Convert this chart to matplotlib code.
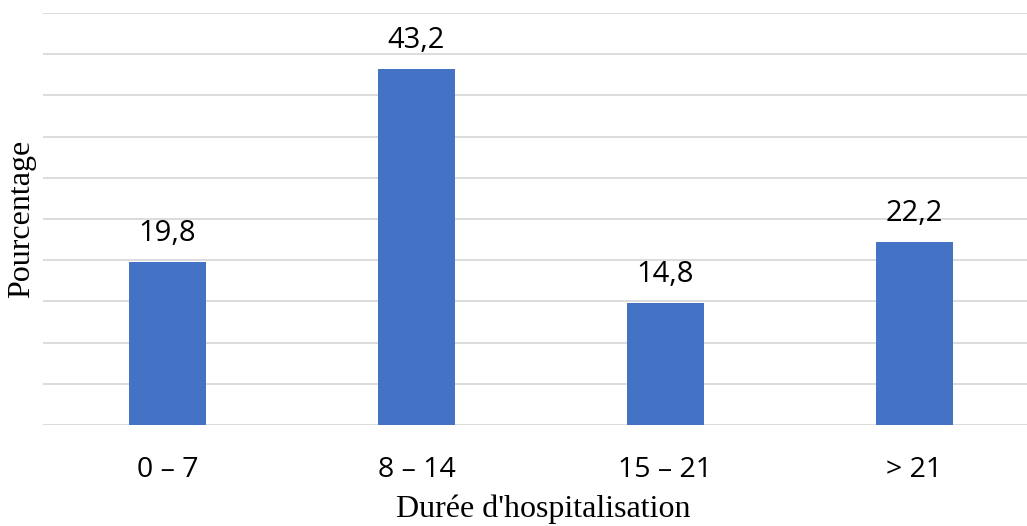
import matplotlib.pyplot as plt

categories = ['0 – 7', '8 – 14', '15 – 21', '> 21']
values = [19.8, 43.2, 14.8, 22.2]
value_labels = ['19,8', '43,2', '14,8', '22,2']

fig = plt.figure(figsize=(10.27, 5.26), dpi=100)
ax = fig.add_axes([43 / 1027, 101 / 526, 996 / 1027, 412 / 526])

x = list(range(len(categories)))
ax.bar(x, values, width=0.31, color='#4472C4', zorder=3)

for xi, v, lab in zip(x, values, value_labels):
    ax.annotate(lab, (xi, v), xytext=(0, 10), textcoords='offset points',
                ha='center', va='bottom', fontsize=21, family='Open Sans')

ax.set_xlim(-0.5, 3.5)
ax.set_ylim(0, 50)
ax.set_yticks(range(0, 51, 5))
ax.set_yticklabels([])
ax.grid(axis='y', color='#D9D9D9', linewidth=1.3, zorder=0)
ax.tick_params(axis='both', length=0)
ax.tick_params(axis='y', left=False)
ax.set_xticks(x)
ax.set_xticklabels(categories, fontsize=20.5, family='Open Sans')
ax.tick_params(axis='x', pad=22)
for s in ax.spines.values():
    s.set_visible(False)

fig.text(543 / 1027, 2 / 526, "Durée d'hospitalisation", ha='center', va='bottom',
         fontsize=23, family='Liberation Serif')
fig.text(22 / 1027, 307 / 526, 'Pourcentage', ha='center', va='center',
         rotation=90, fontsize=23, family='Liberation Serif')

fig.savefig('out.png', dpi=100)
